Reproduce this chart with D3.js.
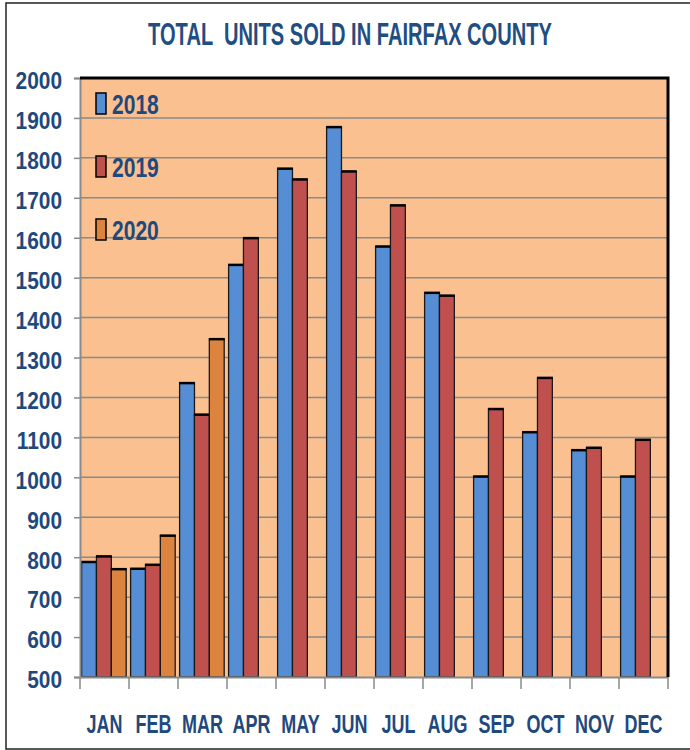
<!DOCTYPE html>
<html>
<head>
  <meta charset="utf-8">
  <title>Total Units Sold in Fairfax County</title>
  <style>
    body { margin: 0; background: #fff; }
    svg { display: block; }
    text { font-family: "Liberation Sans Narrow", "Arial Narrow", "Liberation Sans", sans-serif; font-weight: bold; fill: #1F497D; }
  </style>
</head>
<body>
  <svg width="690" height="750"></svg>
  <script src="https://d3js.org/d3.v7.min.js"></script>
  <script>
    const months = ["JAN", "FEB", "MAR", "APR", "MAY", "JUN", "JUL", "AUG", "SEP", "OCT", "NOV", "DEC"];
    const years = ["2018", "2019", "2020"];
    const s2018 = [788, 771, 1236, 1532, 1773, 1877, 1578, 1462, 1002, 1113, 1068, 1002];
    const s2019 = [802, 781, 1157, 1599, 1746, 1766, 1681, 1455, 1171, 1249, 1074, 1094];
    const s2020 = [770, 854, 1346];
    const yTicks = d3.range(500, 2001, 100);
    const colors = ["#558ED5", "#C0504D", "#DC843F"];

    const series = [s2018, s2019, s2020];
    const svg = d3.select("svg");
    const plotL = 80, plotR = 668, plotT = 78, plotB = 677;

    const x = d3.scaleBand().domain(months).range([plotL, plotR]).padding(0);
    const x1 = d3.scaleBand().domain(years).range([1.6, 46.2]).padding(0);
    const y = d3.scaleLinear().domain([500, 2000]).range([plotB, plotT]);

    // outer frame
    svg.append("rect").attr("x", 6).attr("y", 3).attr("width", 720).attr("height", 746)
      .attr("fill", "none").attr("stroke", "#222").attr("stroke-width", 1.5);

    // plot background
    svg.append("rect").attr("x", plotL).attr("y", plotT)
      .attr("width", plotR - plotL).attr("height", plotB - plotT)
      .attr("fill", "#FAC090");

    // gridlines
    svg.append("g").selectAll("line").data(yTicks.filter(d => d > 500 && d < 2000)).enter()
      .append("line")
      .attr("x1", plotL).attr("x2", plotR)
      .attr("y1", d => y(d)).attr("y2", d => y(d))
      .attr("stroke", "#8a8a8a").attr("stroke-width", 1.5);

    // bars
    const rows = [];
    series.forEach((vals, si) => vals.forEach((v, mi) => rows.push({ m: months[mi], yr: years[si], v, si })));

    const bars = svg.append("g").selectAll("g").data(rows).enter().append("g");
    bars.append("rect")
      .attr("x", d => x(d.m) + x1(d.yr))
      .attr("y", d => y(d.v))
      .attr("width", x1.bandwidth())
      .attr("height", d => y(500) - y(d.v))
      .attr("fill", d => colors[d.si])
      .attr("stroke", "#1a1a1a").attr("stroke-width", 1.3);
    bars.append("line")
      .attr("x1", d => x(d.m) + x1(d.yr) - 0.5)
      .attr("x2", d => x(d.m) + x1(d.yr) + x1.bandwidth() + 0.5)
      .attr("y1", d => y(d.v)).attr("y2", d => y(d.v))
      .attr("stroke", "#000").attr("stroke-width", 2.5);

    // y axis
    const yAxis = svg.append("g").attr("transform", `translate(${plotL},0)`)
      .call(d3.axisLeft(y).tickValues(yTicks).tickSize(6).tickFormat(d3.format("d")));
    yAxis.select(".domain").attr("stroke", "#8a8a8a").attr("stroke-width", 2);
    yAxis.selectAll(".tick line").attr("stroke", "#8a8a8a").attr("stroke-width", 1.5);
    yAxis.selectAll(".tick text")
      .attr("x", -18).attr("dy", "0.45em")
      .style("font-size", "24px").style("fill", "#1F497D");

    // x axis
    const xAxis = svg.append("g").attr("transform", `translate(0,${plotB})`)
      .call(d3.axisBottom(x).tickSize(0).tickPadding(0));
    xAxis.select(".domain").attr("stroke", "#8a8a8a").attr("stroke-width", 2);
    xAxis.selectAll(".tick text")
      .attr("y", 56).attr("dy", 0)
      .style("font-size", "25px").style("fill", "#1F497D");
    svg.append("g").selectAll("line").data(d3.range(months.length + 1)).enter()
      .append("line")
      .attr("x1", i => plotL + i * x.bandwidth()).attr("x2", i => plotL + i * x.bandwidth())
      .attr("y1", plotB).attr("y2", plotB + 12)
      .attr("stroke", "#8a8a8a").attr("stroke-width", 1.5);

    // plot border top and right
    svg.append("path")
      .attr("d", `M${plotL},${plotT}H${plotR}V${plotB}`)
      .attr("fill", "none").attr("stroke", "#000").attr("stroke-width", 3);

    // legend
    const legend = svg.append("g").selectAll("g").data(years).enter().append("g")
      .attr("transform", (d, i) => `translate(96,${93 + i * 63})`);
    legend.append("rect").attr("width", 10).attr("height", 21)
      .attr("fill", (d, i) => colors[i]).attr("stroke", "#000").attr("stroke-width", 1.5);
    legend.append("text").attr("x", 16).attr("y", 21)
      .style("font-size", "27px").text(d => d);

    // title
    const title = svg.append("text").attr("x", 350).attr("y", 45).attr("text-anchor", "middle")
      .style("font-size", "32px").style("fill", "#1F4E82").style("white-space", "pre")
      .text("TOTAL  UNITS SOLD IN FAIRFAX COUNTY");

    // squeeze text horizontally (condensed look) with a scale transform
    function squeeze(sel, f) {
      sel.each(function () {
        const t = d3.select(this);
        const x0 = +t.attr("x") || 0;
        t.attr("x", x0 / f).attr("transform", `scale(${f},1)`);
      });
    }
    squeeze(yAxis.selectAll(".tick text"), 0.87);
    squeeze(xAxis.selectAll(".tick text"), 0.72);
    squeeze(legend.selectAll("text"), 0.78);
    const tw = title.node().getComputedTextLength();
    squeeze(title, 404 / tw);
  </script>
</body>
</html>
